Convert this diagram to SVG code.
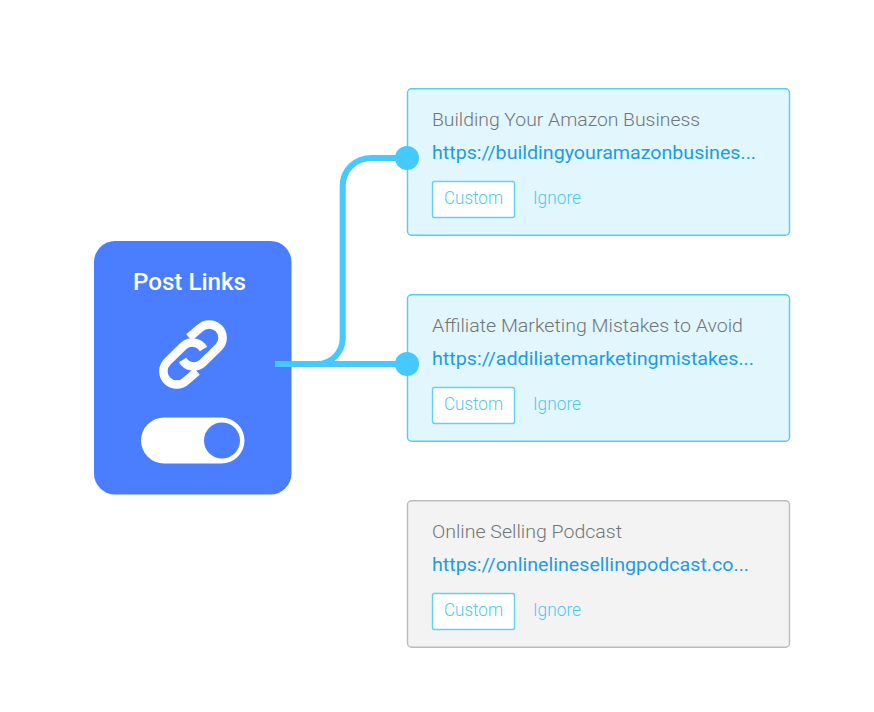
<svg xmlns="http://www.w3.org/2000/svg" width="874" height="712" viewBox="0 0 874 712">
<style>
text{font-family:Roboto,"Liberation Sans",sans-serif}
.card{fill:#e2f6fd;stroke:#52cdf0;stroke-width:1.4}
.gray{fill:#f3f3f3;stroke:#bcbcbc;stroke-width:1.4}
.btn{fill:#fff;stroke:#62d0f0;stroke-width:1.4}
.title{font-size:19px;font-weight:300;fill:#70757a}
.url{font-size:19px;fill:#1c9ce2}
.act{font-size:17.500px;font-weight:300;fill:#4fc8ec}
.wire{fill:none;stroke:#45c9fe;stroke-width:6}
.dot{fill:#45c9fe}
</style>
<rect width="874" height="712" fill="#fff"/>
<g id="post-links">
<rect x="94" y="241" width="197.500" height="253.500" rx="21" fill="#4a7dff"/>
<text x="133" y="289.500" font-size="24.500" font-weight="500" fill="#fff" textLength="113" lengthAdjust="spacingAndGlyphs">Post Links</text>
<g fill="none" stroke="#fff" stroke-width="8.500">
<path d="M189 337.500L199.800 328.300A13 13 0 0 1 218.700 347.200L202 363.500A13 13 0 0 1 182.500 360"/>
<path d="M197 371.500L186.200 380.700A13 13 0 0 1 167.300 361.800L184 345.500A13 13 0 0 1 203.500 349"/>
</g>
<rect x="141" y="417.500" width="103.500" height="46" rx="23" fill="#fff"/>
<circle cx="222" cy="440.500" r="18" fill="#4a7dff"/>
</g>
<g id="connectors">
<path class="wire" d="M275 364H407"/>
<path class="wire" d="M317 364C332 364 342.700 352 342.700 338V186C342.700 170 355 158 372 158H407"/>
</g>
<g id="card-1">
<rect class="card" x="407.500" y="88.700" width="382" height="146.600" rx="4"/>
<text class="title" x="432" y="126" textLength="268" lengthAdjust="spacingAndGlyphs">Building Your Amazon Business</text>
<text class="url" x="432" y="159" textLength="324" lengthAdjust="spacingAndGlyphs">https://buildingyouramazonbusines...</text>
<rect class="btn" x="432.500" y="181.500" width="82" height="36" rx="2"/>
<text class="act" x="444" y="204" textLength="59" lengthAdjust="spacingAndGlyphs">Custom</text>
<text class="act" x="533" y="204" textLength="48" lengthAdjust="spacingAndGlyphs">Ignore</text>
<circle class="dot" cx="407" cy="158" r="12"/>
</g>
<g id="card-2">
<rect class="card" x="407.500" y="294.700" width="382" height="146.600" rx="4"/>
<text class="title" x="432" y="332" textLength="311" lengthAdjust="spacingAndGlyphs">Affiliate Marketing Mistakes to Avoid</text>
<text class="url" x="432" y="365" textLength="322" lengthAdjust="spacingAndGlyphs">https://addiliatemarketingmistakes...</text>
<rect class="btn" x="432.500" y="387.500" width="82" height="36" rx="2"/>
<text class="act" x="444" y="410" textLength="59" lengthAdjust="spacingAndGlyphs">Custom</text>
<text class="act" x="533" y="410" textLength="48" lengthAdjust="spacingAndGlyphs">Ignore</text>
<circle class="dot" cx="407" cy="364" r="12"/>
</g>
<g id="card-3">
<rect class="gray" x="407.500" y="500.700" width="382" height="146.600" rx="4"/>
<text class="title" x="432" y="538" textLength="190" lengthAdjust="spacingAndGlyphs">Online Selling Podcast</text>
<text class="url" x="432" y="571" textLength="317" lengthAdjust="spacingAndGlyphs">https://onlinelinesellingpodcast.co...</text>
<rect class="btn" x="432.500" y="593.500" width="82" height="36" rx="2"/>
<text class="act" x="444" y="616" textLength="59" lengthAdjust="spacingAndGlyphs">Custom</text>
<text class="act" x="533" y="616" textLength="48" lengthAdjust="spacingAndGlyphs">Ignore</text>
</g>
</svg>
